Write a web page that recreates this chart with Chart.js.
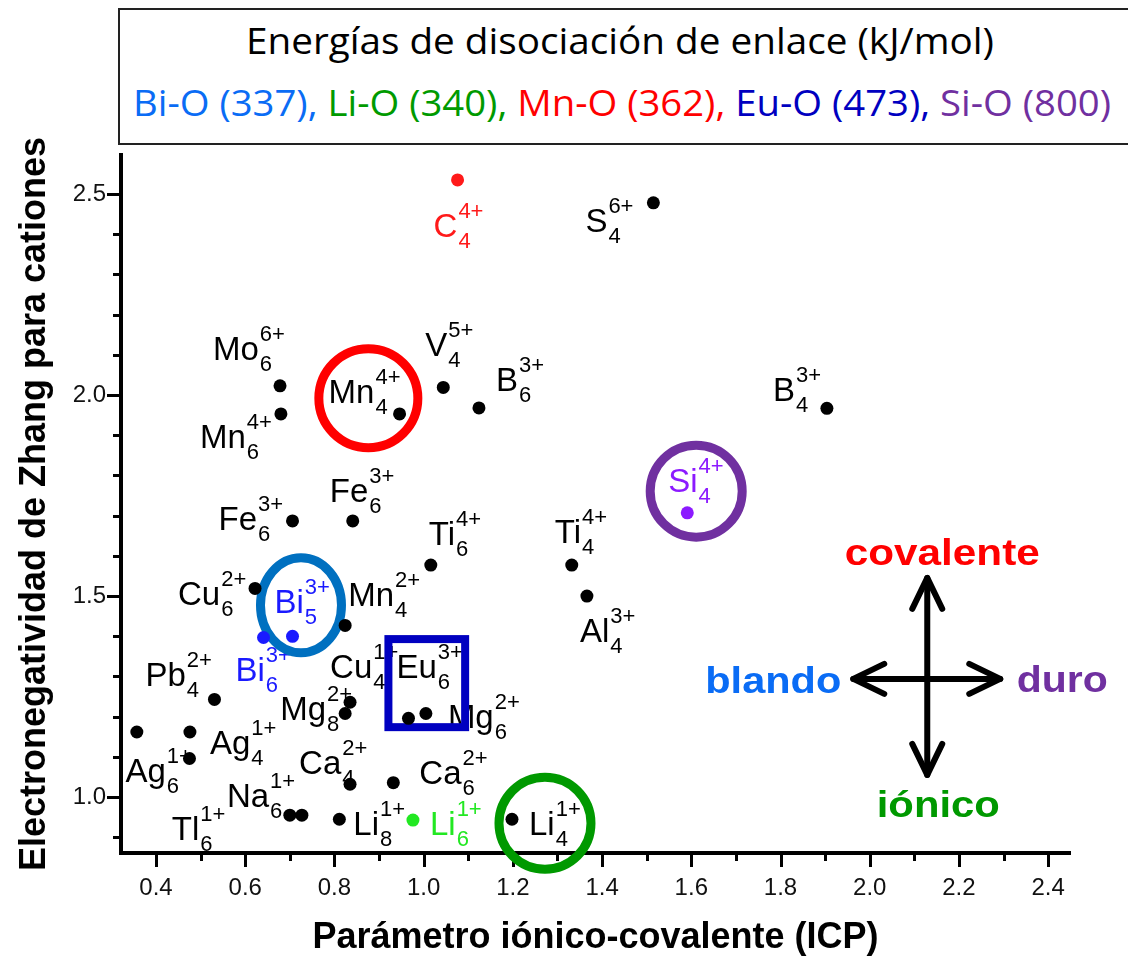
<!DOCTYPE html>
<html lang="es">
<head>
<meta charset="utf-8">
<title>Electronegatividad de Zhang frente a ICP</title>
<script src="https://cdn.jsdelivr.net/npm/chart.js@4.4.1/dist/chart.umd.min.js"></script>
<style>
  html, body { margin: 0; padding: 0; background: #fff; }
  #wrap { position: relative; width: 1128px; height: 964px; overflow: hidden; }
  #chartCanvas { position: absolute; left: 0; top: 0; }
  #header {
    position: absolute; left: 118px; top: 8px; width: 1040px; height: 137px;
    box-sizing: border-box; border: 2px solid #222; background: #fff;
    font-family: "Open Sans", "Noto Sans", sans-serif; font-size: 36px;
  }
  .line { position: absolute; white-space: nowrap; transform-origin: 0 0; line-height: 1; }
</style>
</head>
<body>
<div id="wrap">
  <canvas id="chartCanvas" width="1128" height="964"></canvas>
  <div id="header">
    <div class="line" id="line1">Energías de disociación de enlace (kJ/mol)</div>
    <div class="line" id="line2"></div>
  </div>
</div>
<script>
// --- data ---
const cations = ['C','S','Mo','Mn','Mn','V','B','B','Si','Fe','Fe','Ti','Ti','Al','Cu','Mn','Bi','Bi','Pb','Cu','Mg','Eu','Mg','','Ag','Ag','Ca','Ca','Tl','Na','Li','Li','Li'];
const charges = ['4+','6+','6+','4+','4+','5+','3+','3+','4+','3+','3+','4+','4+','3+','2+','2+','3+','3+','2+','1+','2+','3+','2+','','1+','1+','2+','2+','1+','1+','1+','1+','1+'];
const coordination = ['4','4','6','6','4','4','6','4','4','6','6','6','4','4','6','4','6','5','4','4','8','6','6','','4','6','4','6','6','6','8','6','4'];
const icp = [1.076, 1.515, 0.678, 0.680, 0.946, 1.044, 1.124, 1.904, 1.591, 0.706, 0.841, 1.016, 1.332, 1.366, 0.622, 0.824, 0.641, 0.706, 0.531, 0.835, 0.824, 0.966, 1.005, 0.357, 0.476, 0.475, 0.835, 0.932, 0.700, 0.727, 0.811, 0.976, 1.198];
const zhang = [2.535, 2.478, 2.023, 1.953, 1.953, 2.019, 1.968, 1.967, 1.707, 1.687, 1.687, 1.577, 1.577, 1.500, 1.519, 1.427, 1.397, 1.400, 1.243, 1.236, 1.208, 1.196, 1.208, 1.162, 1.162, 1.096, 1.032, 1.036, 0.955, 0.955, 0.945, 0.943, 0.945];
const family = ['carbono','otro','otro','otro','otro','otro','otro','otro','silicio','otro','otro','otro','otro','otro','otro','otro','bismuto','bismuto','otro','otro','otro','otro','otro','otro','otro','otro','otro','otro','otro','otro','otro','litio6','otro'];

const bonds = ['Bi-O','Li-O','Mn-O','Eu-O','Si-O'];
const bondEnergy = [337, 340, 362, 473, 800];
const arrowWords = ['covalente','blando','duro','iónico'];

// --- layout / styles ---
const familyColor = { otro: '#000000', carbono: '#ff1a1a', silicio: '#8c1aff', bismuto: '#1a1aff', litio6: '#22e822' };
const bondColor = ['#0a6cf5', '#009a00', '#ff0000', '#0000c0', '#7030a0'];
// label anchor (left, baseline) relative to its dot, in px
const labelOffset = [[-24,57],[-68,29],[-67,-26],[-81,34],[-71,-11],[-18,-31],[17,-17],[-54,-7],[-19,-21],[-74,9],[-23,-19],[-2,-20],[-17,-22],[-7,46],[-77,17],[3,-19],[-28,44],[-18,-23],[-69,-13],[-20,-24],[-65,7],[-12,-40],[22,15],[0,0],[20,22],[-64,23],[-51,-10],[26,1],[-118,25],[-75,-8],[14,16],[17,15],[17,16]];
const rings = [
  { x: 0.876, y: 1.992, rx: 49.5, ry: 49.5, color: '#ff0000' },
  { x: 0.725, y: 1.477, rx: 40.5, ry: 47.5, color: '#0070c0' },
  { x: 1.611, y: 1.761, rx: 46, ry: 46, color: '#7030a0' },
  { x: 1.272, y: 0.935, rx: 46, ry: 46, color: '#009900' }
];
const euBox = { x0: 0.921, x1: 1.093, y0: 1.174, y1: 1.393, color: '#0000c0' };
const cross = { x: 2.129, y: 1.294, up: 101, down: 96, left: 74, right: 73 };
const arrowLabelPos = [[15,-114,195,'#ff0000'],[-154,14,136,'#0a6cf5'],[135,13,91,'#7030a0'],[11,138,123,'#009900']];

const mainFont = '33px "Liberation Sans", Arial, sans-serif';
const smallFont = '22px "Liberation Sans", Arial, sans-serif';

// --- header ---
const line2 = document.getElementById('line2');
line2.innerHTML = bonds.map((b, i) =>
  `<span style="color:${bondColor[i]}">${b} (${bondEnergy[i]})${i < bonds.length - 1 ? ',' : ''}</span>`
).join(' ');

function fitLine(id, centerX, width, top) {
  const el = document.getElementById(id);
  const w = el.getBoundingClientRect().width;
  el.style.left = (centerX - width / 2 - 120) + 'px';
  el.style.top = top + 'px';
  el.style.transform = `scaleX(${width / w})`;
}
fitLine('line1', 620, 748, 13);
fitLine('line2', 622, 978, 75);

// --- chart ---
const isMultiple = (v, step) => Math.abs(v / step - Math.round(v / step)) < 1e-6;

function fitText(ctx, text, cx, baseline, width) {
  const w = ctx.measureText(text).width;
  ctx.save();
  ctx.translate(cx - width / 2, baseline);
  ctx.scale(width / w, 1);
  ctx.fillText(text, 0, 0);
  ctx.restore();
}

function arrowHead(ctx, tx, ty, dx, dy) {
  // dx, dy: unit direction the arrow points to
  const back = 31, side = 15;
  ctx.beginPath();
  ctx.moveTo(tx - dx * back - dy * side, ty - dy * back + dx * side);
  ctx.lineTo(tx, ty);
  ctx.lineTo(tx - dx * back + dy * side, ty - dy * back - dx * side);
  ctx.stroke();
}

const decorations = {
  id: 'decorations',
  beforeDatasetsDraw(chart) {
    const { ctx, scales: { x, y } } = chart;
    ctx.save();

    // tick marks (major long, minor short), placed by the scales
    ctx.strokeStyle = '#000';
    ctx.lineWidth = 3;
    x.ticks.forEach(t => {
      const len = isMultiple(t.value, 0.2) ? 14 : 8;
      const px = Math.round(x.getPixelForValue(t.value)) + 0.5;
      ctx.beginPath(); ctx.moveTo(px, y.bottom); ctx.lineTo(px, y.bottom + len); ctx.stroke();
    });
    y.ticks.forEach(t => {
      const len = isMultiple(t.value, 0.5) ? 14 : 8;
      const py = Math.round(y.getPixelForValue(t.value)) + 0.5;
      ctx.beginPath(); ctx.moveTo(x.left, py); ctx.lineTo(x.left - len, py); ctx.stroke();
    });

    // point labels
    ctx.textAlign = 'left';
    ctx.textBaseline = 'alphabetic';
    cations.forEach((name, i) => {
      if (!name) return;
      const px = x.getPixelForValue(icp[i]) + labelOffset[i][0];
      const py = y.getPixelForValue(zhang[i]) + labelOffset[i][1];
      ctx.fillStyle = familyColor[family[i]];
      ctx.font = mainFont;
      ctx.fillText(name, px, py);
      const w = ctx.measureText(name).width + 1;
      ctx.font = smallFont;
      ctx.fillText(charges[i], px + w, py - 19);
      ctx.fillText(coordination[i], px + w, py + 11);
    });

    // rings and box
    ctx.lineWidth = 9;
    rings.forEach(r => {
      ctx.strokeStyle = r.color;
      ctx.beginPath();
      ctx.ellipse(x.getPixelForValue(r.x), y.getPixelForValue(r.y), r.rx, r.ry, 0, 0, Math.PI * 2);
      ctx.stroke();
    });
    ctx.lineWidth = 8;
    ctx.strokeStyle = euBox.color;
    const bx0 = x.getPixelForValue(euBox.x0), bx1 = x.getPixelForValue(euBox.x1);
    const by0 = y.getPixelForValue(euBox.y1), by1 = y.getPixelForValue(euBox.y0);
    ctx.strokeRect(bx0, by0, bx1 - bx0, by1 - by0);
    ctx.restore();
  },
  afterDatasetsDraw(chart) {
    const { ctx, scales: { x, y } } = chart;
    const cx = x.getPixelForValue(cross.x), cy = y.getPixelForValue(cross.y);
    ctx.save();
    ctx.strokeStyle = '#000';
    ctx.lineWidth = 6;
    ctx.lineCap = 'round';
    ctx.lineJoin = 'round';
    ctx.beginPath();
    ctx.moveTo(cx, cy - cross.up); ctx.lineTo(cx, cy + cross.down);
    ctx.moveTo(cx - cross.left, cy); ctx.lineTo(cx + cross.right, cy);
    ctx.stroke();
    arrowHead(ctx, cx, cy - cross.up, 0, -1);
    arrowHead(ctx, cx, cy + cross.down, 0, 1);
    arrowHead(ctx, cx - cross.left, cy, -1, 0);
    arrowHead(ctx, cx + cross.right, cy, 1, 0);

    ctx.font = 'bold 36px "Liberation Sans", Arial, sans-serif';
    ctx.textAlign = 'left';
    ctx.textBaseline = 'alphabetic';
    arrowWords.forEach((word, i) => {
      const [dx, dy, w, col] = arrowLabelPos[i];
      ctx.fillStyle = col;
      fitText(ctx, word, cx + dx, cy + dy, w);
    });
    ctx.restore();
  }
};

const familyOrder = ['otro', 'carbono', 'silicio', 'bismuto', 'litio6'];
const datasets = familyOrder.map(f => ({
  label: f,
  data: icp.map((v, i) => ({ x: v, y: zhang[i] })).filter((p, i) => family[i] === f),
  backgroundColor: familyColor[f],
  borderWidth: 0,
  pointRadius: 6.5,
  pointHoverRadius: 6.5
}));

const tickFont = { family: '"Liberation Sans", Arial, sans-serif', size: 24 };
const titleFont = { family: '"Liberation Sans", Arial, sans-serif', size: 36, weight: 'bold' };

new Chart(document.getElementById('chartCanvas').getContext('2d'), {
  type: 'scatter',
  data: { datasets },
  options: {
    responsive: false,
    animation: false,
    events: [],
    layout: { padding: { top: 155, right: 58, left: 0, bottom: 0 } },
    plugins: { legend: { display: false }, tooltip: { enabled: false } },
    scales: {
      x: {
        type: 'linear', min: 0.3215, max: 2.449,
        afterFit: s => { s.height = 111; },
        border: { display: true, width: 4, color: '#000' },
        grid: { drawOnChartArea: false, tickLength: 13, tickColor: 'rgba(0,0,0,0)' },
        ticks: {
          stepSize: 0.1, includeBounds: false, autoSkip: false, maxRotation: 0,
          padding: 8, color: '#111', font: tickFont,
          callback: v => isMultiple(v, 0.2) ? v.toFixed(1) : ''
        },
        title: { display: true, text: 'Parámetro iónico-covalente (ICP)', color: '#000', font: titleFont, padding: { top: 0, bottom: 4 } }
      },
      y: {
        type: 'linear', min: 0.861, max: 2.597,
        afterFit: s => { s.width = 121; },
        border: { display: true, width: 4, color: '#000' },
        grid: { drawOnChartArea: false, tickLength: 13, tickColor: 'rgba(0,0,0,0)' },
        ticks: {
          stepSize: 0.1, includeBounds: false, autoSkip: false,
          padding: 2, color: '#111', font: tickFont,
          callback: v => isMultiple(v, 0.5) ? v.toFixed(1) : ''
        },
        title: { display: true, text: 'Electronegatividad de Zhang para cationes', color: '#000', font: titleFont, padding: { top: 13, bottom: 0 } }
      }
    }
  },
  plugins: [decorations]
});
</script>
</body>
</html>
